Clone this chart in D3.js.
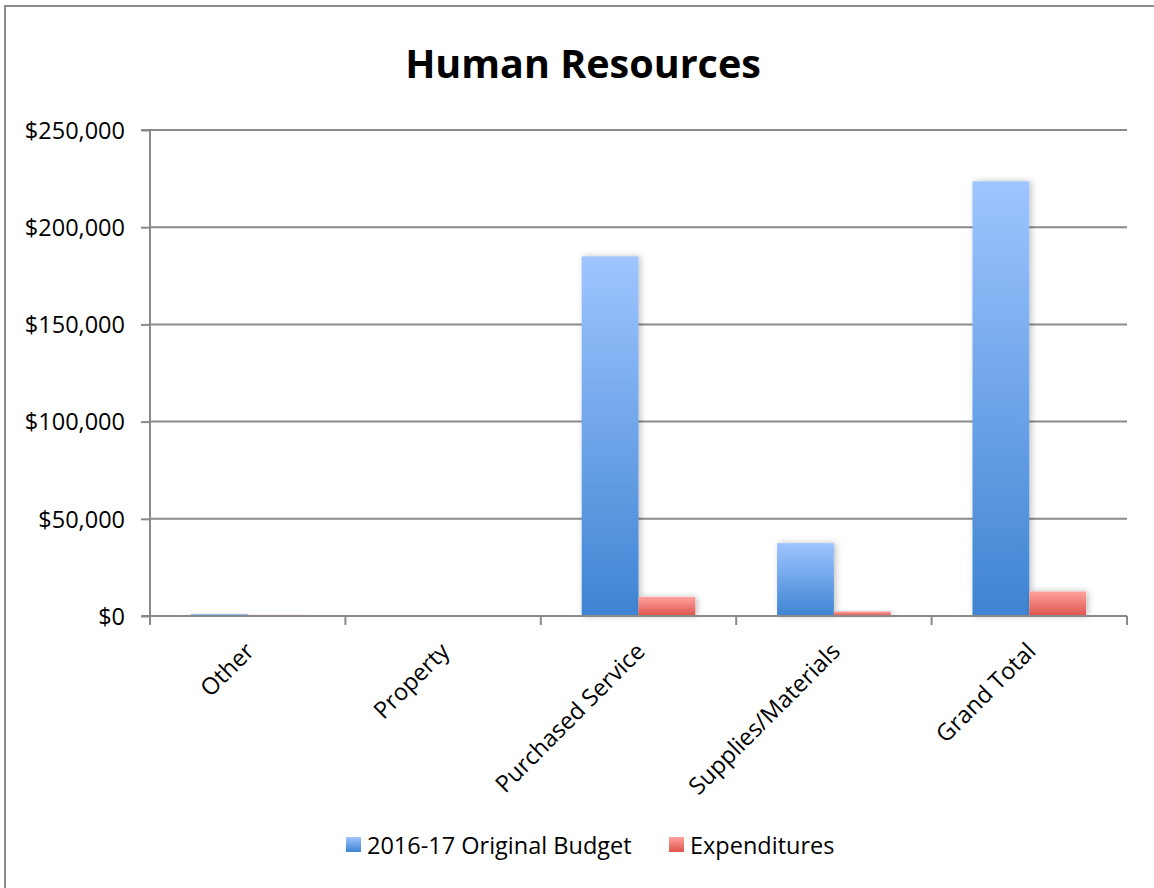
<!DOCTYPE html>
<html><head><meta charset="utf-8">
<script src="https://cdn.jsdelivr.net/npm/d3@7"></script>
<style>body{margin:0;background:#fff}svg{display:block}</style>
</head><body>
<script>
const categories = ["Other", "Property", "Purchased Service", "Supplies/Materials", "Grand Total"];
const seriesNames = ["2016-17 Original Budget", "Expenditures"];
const budget = [1000, 150, 185000, 37500, 223600];
const expenditures = [600, 0, 9800, 2300, 12600];
const yTicks = [0, 50000, 100000, 150000, 200000, 250000];

const W = 1154, H = 888;
const m = {left: 150, right: 27, top: 130, bottom: 272};
const svg = d3.select("body").append("svg").attr("width", W).attr("height", H);
const font = "'Open Sans', sans-serif";
const fs = "23.5px";

const defs = svg.append("defs");
const gB = defs.append("linearGradient").attr("id","gb").attr("x1",0).attr("y1",0).attr("x2",0).attr("y2",1);
gB.append("stop").attr("offset","0%").attr("stop-color","#9ec5ff");
gB.append("stop").attr("offset","100%").attr("stop-color","#3e84d2");
const gR = defs.append("linearGradient").attr("id","gr").attr("x1",0).attr("y1",0).attr("x2",0).attr("y2",1);
gR.append("stop").attr("offset","0%").attr("stop-color","#ffa29d");
gR.append("stop").attr("offset","100%").attr("stop-color","#dd544c");
const f = defs.append("filter").attr("id","sh").attr("x","-30%").attr("y","-30%").attr("width","160%").attr("height","160%");
f.append("feDropShadow").attr("dx",2).attr("dy",0).attr("stdDeviation",3).attr("flood-color","#000").attr("flood-opacity",0.25);

svg.append("rect").attr("x",5).attr("y",6).attr("width",W+10).attr("height",H+10)
  .attr("fill","none").attr("stroke","#8c8c8c").attr("stroke-width",2);

svg.append("text").attr("x",583).attr("y",78).attr("text-anchor","middle")
  .style("font-family",font).style("font-size","39.5px").style("font-weight","bold").text("Human Resources");

const x = d3.scaleBand().domain(categories).range([m.left, W - m.right]).paddingInner(0).paddingOuter(0);
const y = d3.scaleLinear().domain([0, 250000]).range([H - m.bottom, m.top]);
const xs = d3.scaleBand().domain(seriesNames).range([0, x.bandwidth()]).paddingInner(0).paddingOuter(0.72);

// gridlines
svg.append("g").selectAll("line").data(yTicks.slice(1)).join("line")
  .attr("x1", m.left).attr("x2", W - m.right).attr("y1", d=>y(d)).attr("y2", d=>y(d))
  .attr("stroke","#8a8a8a").attr("stroke-width",2);

// y axis
const yAxis = svg.append("g").attr("transform",`translate(${m.left},0)`)
  .call(d3.axisLeft(y).tickValues(yTicks).tickSize(9).tickPadding(16).tickFormat(d => "$" + d3.format(",")(d)));
yAxis.attr("font-size", null).attr("font-family", null);
yAxis.select(".domain").attr("stroke","#8a8a8a").attr("stroke-width",2).attr("d", `M-9,${y(250000)}H0V${y(0)}H-9`);
yAxis.selectAll(".tick line").attr("stroke","#8a8a8a").attr("stroke-width",2);
yAxis.selectAll(".tick text").style("font-family",font).style("font-size",fs).attr("fill","#000").attr("dy","0.35em");

// bars
const data = categories.map((c,i)=>({c, vals:[budget[i], expenditures[i]]}));
const bars = svg.append("g");
data.forEach(d=>{
  d.vals.forEach((v,j)=>{
    if (v <= 0) return;
    bars.append("rect")
      .attr("x", x(d.c) + xs(seriesNames[j]))
      .attr("y", y(v))
      .attr("width", xs.bandwidth())
      .attr("height", y(0) - y(v))
      .attr("fill", j===0 ? "url(#gb)" : "url(#gr)")
      .attr("filter","url(#sh)");
  });
});

// x axis
const xAxis = svg.append("g").attr("transform",`translate(0,${y(0)})`)
  .call(d3.axisBottom(x).tickSize(0).tickFormat(""));
xAxis.select(".domain").attr("stroke","#8a8a8a").attr("stroke-width",2).attr("d", `M${m.left-9},0H${W-m.right}`);
const bounds = categories.map(c=>x(c)).concat([W - m.right]);
svg.append("g").selectAll("line").data(bounds).join("line")
  .attr("x1",d=>d).attr("x2",d=>d).attr("y1",y(0)).attr("y2",y(0)+9)
  .attr("stroke","#8a8a8a").attr("stroke-width",2);

svg.append("g").selectAll("text").data(categories).join("text")
  .attr("transform", d=>`translate(${x(d)+x.bandwidth()/2+2},${y(0)+31}) rotate(-45)`)
  .attr("text-anchor","end").attr("dy","0.35em")
  .style("font-family",font).style("font-size",fs).text(d=>d);

// legend
const leg = svg.append("g");
const legX = [346, 669];
seriesNames.forEach((s,j)=>{
  leg.append("rect").attr("x",legX[j]).attr("y",837).attr("width",15).attr("height",15)
    .attr("fill", j===0 ? "url(#gb)" : "url(#gr)");
  leg.append("text").attr("x",legX[j]+21).attr("y",854)
    .style("font-family",font).style("font-size",fs).text(s);
});
</script>
</body></html>
